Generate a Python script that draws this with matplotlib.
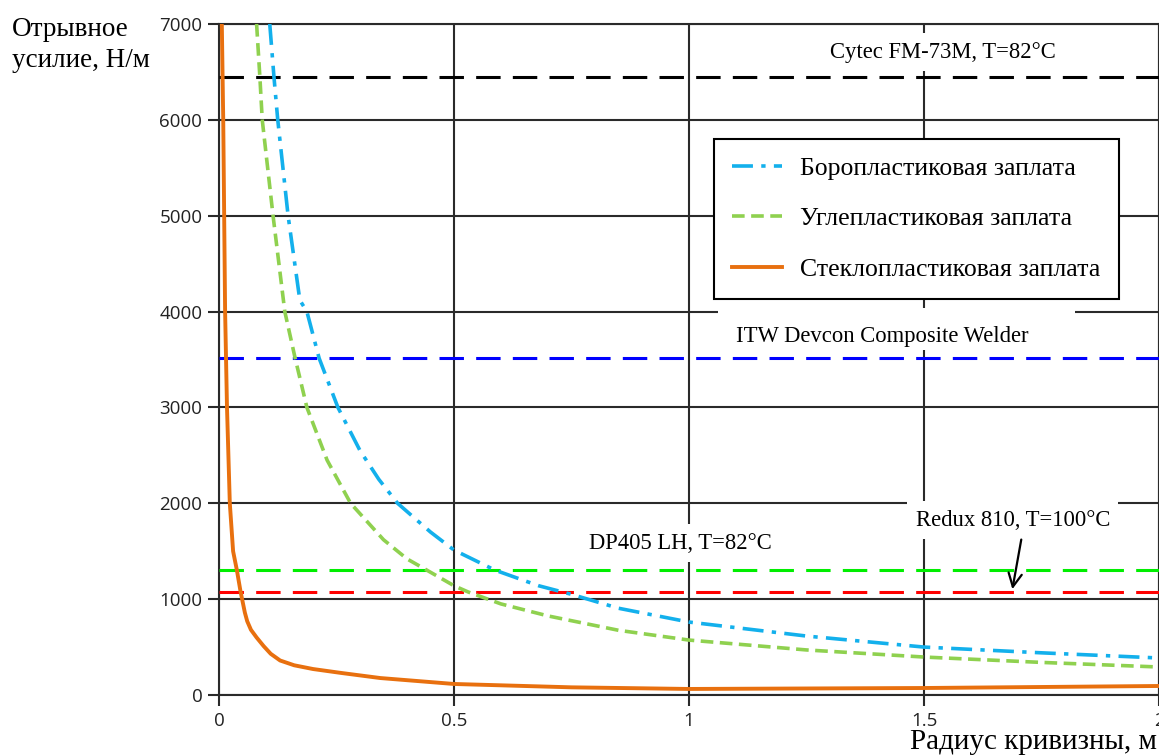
import matplotlib
matplotlib.use('Agg')
import matplotlib.pyplot as plt
from matplotlib.patches import Rectangle

# curves (radius, m -> peel force, N/m)
boron_x = [0.108, 0.117, 0.125, 0.147, 0.172, 0.187, 0.213, 0.253, 0.30, 0.34,
           0.38, 0.45, 0.5, 0.587, 0.68, 0.75, 0.85, 1.0, 1.25, 1.5, 1.75, 2.0]
boron_y = [7000, 6444, 6000, 5000, 4119, 4000, 3514, 3000, 2550, 2250,
           2000, 1700, 1512, 1303, 1140, 1050, 905, 761, 615, 500, 440, 386]

carbon_x = [0.080, 0.087, 0.092, 0.115, 0.140, 0.162, 0.187, 0.23, 0.28, 0.35,
            0.40, 0.442, 0.5, 0.53, 0.6, 0.7, 0.85, 1.0, 1.25, 1.5, 1.75, 2.0]
carbon_y = [7000, 6444, 6000, 5000, 4000, 3514, 3000, 2450, 2000, 1620,
            1420, 1303, 1140, 1075, 950, 825, 675, 573, 470, 396, 340, 292]

glass_x = [0.006, 0.009, 0.011, 0.013, 0.017, 0.023, 0.030, 0.038, 0.046, 0.05,
           0.055, 0.06, 0.068, 0.08, 0.095, 0.11, 0.13, 0.16, 0.2, 0.26,
           0.343, 0.5, 0.75, 1.0, 1.5, 2.0]
glass_y = [7000, 6000, 5000, 4000, 3000, 2000, 1500, 1303, 1075, 980,
           860, 770, 680, 600, 510, 430, 360, 310, 271, 230,
           177, 115, 80, 63, 73, 94]

# adhesive limits
limit_values = [6444, 3514, 1303, 1075]
limit_colors = ['#000000', '#0000ff', '#00ee00', '#ff0000']

legend_labels = ['Боропластиковая заплата', 'Углепластиковая заплата',
                 'Стеклопластиковая заплата']

serif = 'Liberation Serif'
fs_note = 16.3
fs_leg = 18.5

fig = plt.figure(figsize=(11.59, 7.56), dpi=100)
ax = fig.add_axes([219 / 1159, 61 / 756, 940 / 1159, 671 / 756])

for val, col in zip(limit_values, limit_colors):
    ax.axhline(val, color=col, lw=2.2, dashes=(8, 4), zorder=3)

l1, = ax.plot(boron_x, boron_y, color='#13b0ec', lw=2.6,
              dashes=(5.8, 2.3, 1.2, 2.3), zorder=4)
l2, = ax.plot(carbon_x, carbon_y, color='#8fd14f', lw=2.6,
              dashes=(3.5, 1.8), zorder=4)
l3, = ax.plot(glass_x, glass_y, color='#e8700f', lw=2.8, zorder=5)

ax.set_xlim(0, 2)
ax.set_ylim(0, 7000)
ax.set_xticks([0, 0.5, 1, 1.5, 2])
ax.set_xticklabels(['0', '0.5', '1', '1.5', '2'])
ax.set_yticks(range(0, 7001, 1000))
ax.grid(True, color='#2a2a2a', lw=1.5, zorder=1)
ax.tick_params(direction='out', length=8, width=1.5, color='#2a2a2a',
               labelsize=13.5, labelcolor='#222222', pad=4)
for lab in ax.get_xticklabels() + ax.get_yticklabels():
    lab.set_family('Open Sans')
for sp in ax.spines.values():
    sp.set_color('#2a2a2a')
    sp.set_linewidth(1.5)

box = dict(facecolor='white', edgecolor='none', pad=6)
ax.text(1.54, 6705, 'Cytec FM-73M, T=82°C', family=serif, fontsize=fs_note,
        ha='center', va='center', bbox=box, zorder=2)
ax.add_patch(Rectangle((1.062, 3600), 0.76, 440, facecolor='white',
                       edgecolor='none', zorder=2))
ax.text(1.411, 3743, 'ITW Devcon Composite Welder', family=serif,
        fontsize=fs_note, ha='center', va='center', zorder=2.5)
ax.text(0.981, 1585, 'DP405 LH, T=82°C', family=serif, fontsize=fs_note,
        ha='center', va='center', bbox=box, zorder=2)
ax.text(1.689, 1825, 'Redux 810, T=100°C', family=serif, fontsize=fs_note,
        ha='center', va='center', bbox=box, zorder=2)
ax.annotate('', xy=(1.687, 1075), xytext=(1.708, 1650),
            arrowprops=dict(arrowstyle='->', lw=1.6, color='black',
                            mutation_scale=24), zorder=7)

leg = ax.legend([l1, l2, l3], legend_labels, loc='upper left',
                bbox_to_anchor=(0.527, 0.829), borderaxespad=0,
                fancybox=False, framealpha=1, edgecolor='black',
                handlelength=1.95, handletextpad=0.7, labelspacing=1.07,
                borderpad=0.7, prop={'family': serif, 'size': fs_leg})
leg.get_frame().set_linewidth(1.5)
leg.set_zorder(8)

fig.text(12 / 1159, 1 - 17 / 756, 'Отрывное\nусилие, Н/м', family=serif,
         fontsize=19.5, ha='left', va='top', linespacing=1.3)
fig.text(1157 / 1159, 1 - 749 / 756, 'Радиус кривизны, м', family=serif,
         fontsize=21, ha='right', va='baseline')

fig.savefig('out.png', dpi=100)
